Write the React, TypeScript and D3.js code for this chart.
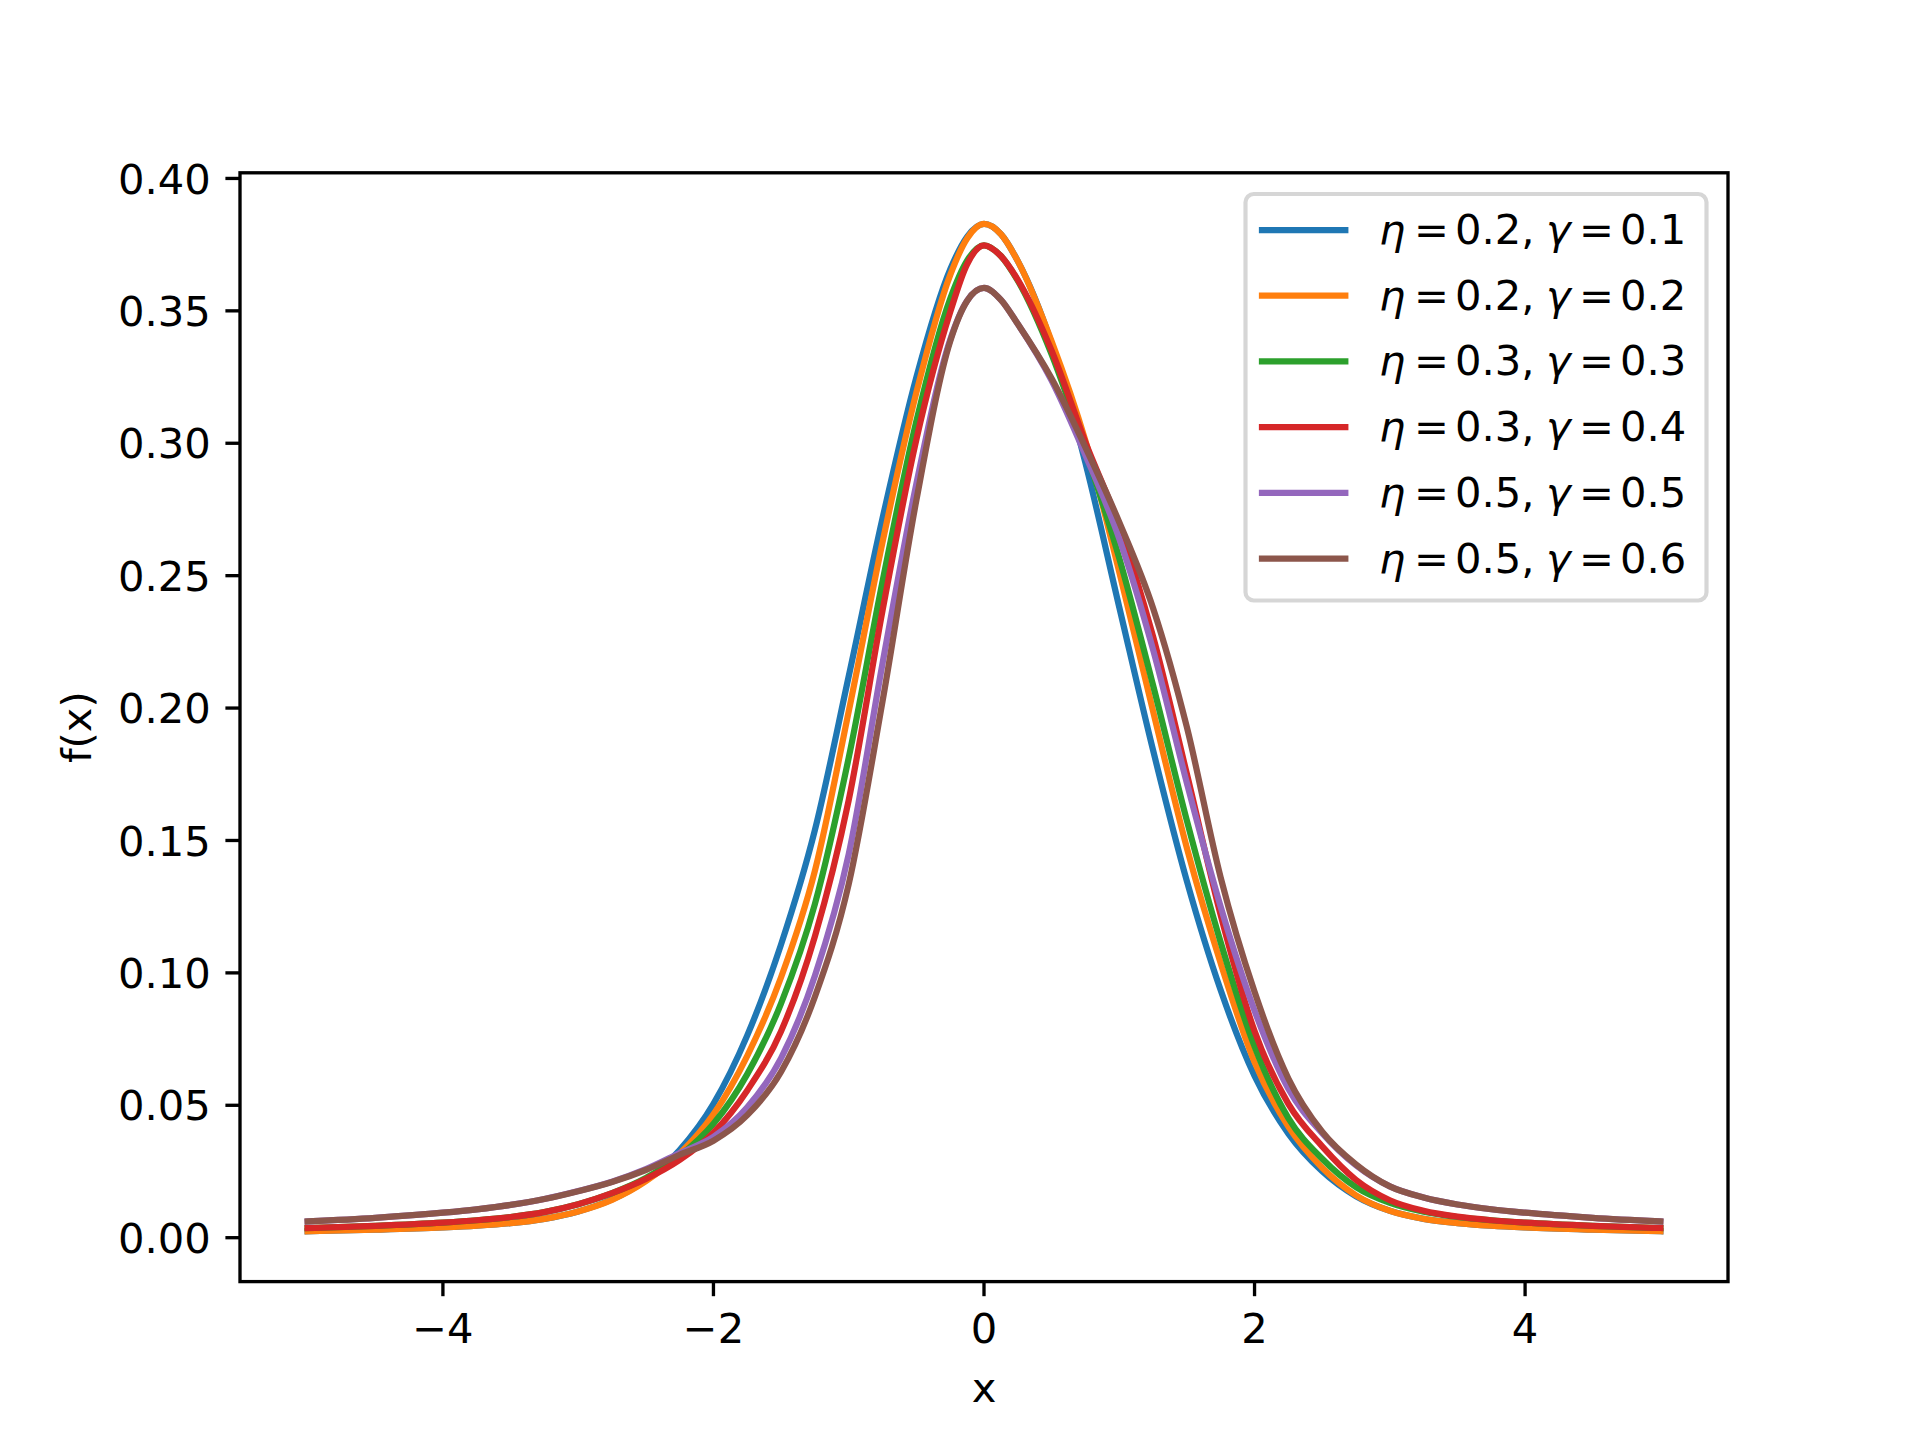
import React from "react";
import * as d3 from "d3";

// ---------- data ----------
const etaValues = [0.2, 0.2, 0.3, 0.3, 0.5, 0.5];
const gammaValues = [0.1, 0.2, 0.3, 0.4, 0.5, 0.6];
const seriesColors = ["#1f77b4", "#ff7f0e", "#2ca02c", "#d62728", "#9467bd", "#8c564b"];

const xTicks = [-4, -2, 0, 2, 4];
const xTickLabels = ["\u22124", "\u22122", "0", "2", "4"];
const yTicks = [0, 0.05, 0.1, 0.15, 0.2, 0.25, 0.3, 0.35, 0.4];
const yTickLabels = ["0.00", "0.05", "0.10", "0.15", "0.20", "0.25", "0.30", "0.35", "0.40"];

const xGrid = [
  -5, -4.5, -4, -3.75, -3.5, -3.25, -3, -2.75, -2.5, -2.25, -2, -1.75, -1.5, -1.25, -1,
  -0.75, -0.5, -0.25, -0.125, 0, 0.125, 0.25, 0.5, 0.75, 1, 1.25, 1.5, 1.75, 2, 2.25,
  2.5, 2.75, 3, 3.25, 3.5, 3.75, 4, 4.5, 5,
];

const yEta02Gam01 = [
  0.00245, 0.00301, 0.00385, 0.00451, 0.0055, 0.00713, 0.00991, 0.01441, 0.02168, 0.03311,
  0.05054, 0.07639, 0.11077, 0.15395, 0.21202, 0.27167, 0.32491, 0.36562, 0.37797, 0.38281,
  0.37895, 0.36878, 0.33766, 0.29253, 0.23808, 0.18404, 0.1346, 0.09341, 0.06112, 0.03928,
  0.02507, 0.01565, 0.01015, 0.00713, 0.0055, 0.00451, 0.00385, 0.00301, 0.00245,
];
const yEta02Gam02 = [
  0.00245, 0.00301, 0.00385, 0.00451, 0.0055, 0.00713, 0.00991, 0.01428, 0.0213, 0.03169,
  0.04657, 0.06868, 0.09836, 0.13858, 0.19876, 0.26268, 0.31915, 0.36352, 0.37732, 0.38281,
  0.37895, 0.36878, 0.33851, 0.30087, 0.25142, 0.19876, 0.14713, 0.10362, 0.06631, 0.04196,
  0.02642, 0.01602, 0.01015, 0.00713, 0.0055, 0.00451, 0.00385, 0.00301, 0.00245,
];
const yEta03Gam03 = [
  0.00367, 0.0045, 0.00571, 0.00659, 0.00782, 0.00968, 0.01265, 0.01683, 0.02254, 0.03084,
  0.04299, 0.06177, 0.0885, 0.126, 0.18126, 0.24782, 0.30831, 0.35458, 0.36899, 0.37475,
  0.3707, 0.36138, 0.33355, 0.29723, 0.25661, 0.20856, 0.15742, 0.11147, 0.07222, 0.04517,
  0.0298, 0.01911, 0.01315, 0.0098, 0.00782, 0.00659, 0.00571, 0.0045, 0.00367,
];
const yEta03Gam04 = [
  0.00367, 0.0045, 0.00571, 0.00659, 0.00782, 0.00968, 0.01265, 0.01683, 0.02218, 0.02936,
  0.03964, 0.05562, 0.078, 0.11381, 0.16527, 0.23683, 0.30139, 0.34952, 0.36761, 0.37475,
  0.3707, 0.36171, 0.33493, 0.30035, 0.26859, 0.22698, 0.17507, 0.12174, 0.078, 0.05055,
  0.03449, 0.02182, 0.01415, 0.01016, 0.00793, 0.00659, 0.00571, 0.0045, 0.00367,
];
const yEta05Gam05 = [
  0.00612, 0.0075, 0.00943, 0.01071, 0.01238, 0.0146, 0.0176, 0.02113, 0.02586, 0.03193,
  0.03805, 0.0492, 0.06781, 0.09895, 0.14486, 0.2169, 0.28463, 0.33908, 0.35381, 0.35863,
  0.35418, 0.345, 0.32365, 0.29547, 0.26398, 0.22203, 0.17164, 0.12491, 0.08576, 0.05623,
  0.03947, 0.0273, 0.01937, 0.01519, 0.01254, 0.01074, 0.00943, 0.0075, 0.00612,
];
const yEta05Gam06 = [
  0.00612, 0.0075, 0.00943, 0.01071, 0.01238, 0.0146, 0.01754, 0.02103, 0.02557, 0.03132,
  0.03663, 0.04627, 0.06265, 0.091, 0.13351, 0.20261, 0.27847, 0.33849, 0.35373, 0.35863,
  0.35418, 0.345, 0.32441, 0.29843, 0.27019, 0.23772, 0.19272, 0.13594, 0.09283, 0.0601,
  0.04002, 0.02764, 0.01937, 0.01519, 0.01254, 0.01074, 0.00943, 0.0075, 0.00612,
];

const allSeries = [yEta02Gam01, yEta02Gam02, yEta03Gam03, yEta03Gam04, yEta05Gam05, yEta05Gam06];

// ---------- layout ----------
const W = 1920;
const H = 1440;
const AX_L = 240;
const AX_R = 1728;
const AX_T = 172.8;
const AX_B = 1281.6;
const FONT = 41.67;
const LW = 6.25;
const SPINE = 3.33;
const TICK = 14.6;
const PAD = 14.6;

export default function App() {
  const x = d3.scaleLinear().domain([-5.5, 5.5]).range([AX_L, AX_R]);
  const y = d3.scaleLinear().domain([-0.01658, 0.40213]).range([AX_B, AX_T]);
  const line = d3
    .line<number>()
    .x((_, i) => x(xGrid[i]))
    .y((d) => y(d))
    .curve(d3.curveMonotoneX);

  const legX = 1245.5;
  const legY = 194;
  const legW = 461;
  const legH = 406.5;
  const rowStep = 65.7;

  return (
    <svg
      width={W}
      height={H}
      viewBox={`0 0 ${W} ${H}`}
      style={{ position: "absolute", left: 0, top: 0, background: "#fff" }}
      fontFamily="'DejaVu Sans', sans-serif"
    >
      <rect x={0} y={0} width={W} height={H} fill="#fff" />
      <defs>
        <clipPath id="axclip">
          <rect x={AX_L} y={AX_T} width={AX_R - AX_L} height={AX_B - AX_T} />
        </clipPath>
      </defs>

      {/* curves */}
      <g clipPath="url(#axclip)">
        {allSeries.map((s, i) => (
          <path
            key={i}
            d={line(s) || ""}
            fill="none"
            stroke={seriesColors[i]}
            strokeWidth={LW}
            strokeLinejoin="round"
            strokeLinecap="square"
          />
        ))}
      </g>

      {/* spines */}
      <rect
        x={AX_L}
        y={AX_T}
        width={AX_R - AX_L}
        height={AX_B - AX_T}
        fill="none"
        stroke="#000"
        strokeWidth={SPINE}
      />

      {/* x ticks */}
      {xTicks.map((t, i) => (
        <g key={`xt${i}`}>
          <line x1={x(t)} x2={x(t)} y1={AX_B} y2={AX_B + TICK} stroke="#000" strokeWidth={SPINE} />
          <text
            x={x(t)}
            y={AX_B + TICK + PAD + 31.7}
            fontSize={FONT}
            textAnchor="middle"
            fill="#000"
          >
            {xTickLabels[i]}
          </text>
        </g>
      ))}

      {/* y ticks */}
      {yTicks.map((t, i) => (
        <g key={`yt${i}`}>
          <line x1={AX_L - TICK} x2={AX_L} y1={y(t)} y2={y(t)} stroke="#000" strokeWidth={SPINE} />
          <text
            x={AX_L - TICK - PAD}
            y={y(t) + 15.2}
            fontSize={FONT}
            textAnchor="end"
            fill="#000"
          >
            {yTickLabels[i]}
          </text>
        </g>
      ))}

      {/* axis labels */}
      <text x={(AX_L + AX_R) / 2} y={1402} fontSize={FONT} textAnchor="middle" fill="#000">
        x
      </text>
      <text
        transform={`translate(91, ${(AX_T + AX_B) / 2}) rotate(-90)`}
        fontSize={FONT}
        textAnchor="middle"
        fill="#000"
      >
        f(x)
      </text>

      {/* legend */}
      <g>
        <rect
          x={legX}
          y={legY}
          width={legW}
          height={legH}
          rx={8.3}
          ry={8.3}
          fill="#fff"
          fillOpacity={0.8}
          stroke="#cccccc"
          strokeOpacity={0.8}
          strokeWidth={4.17}
        />
        {etaValues.map((eta, i) => {
          const hy = 230 + i * rowStep;
          const by = 244 + i * rowStep;
          return (
            <g key={`lg${i}`}>
              <line
                x1={1262}
                x2={1345.3}
                y1={hy}
                y2={hy}
                stroke={seriesColors[i]}
                strokeWidth={LW}
                strokeLinecap="square"
              />
              <text y={by} fontSize={FONT} fill="#000">
                <tspan x={1379} fontStyle="italic">η</tspan>
                <tspan x={1414}>=</tspan>
                <tspan x={1455}>{eta.toFixed(1)},</tspan>
                <tspan x={1546} fontStyle="italic">γ</tspan>
                <tspan x={1579}>=</tspan>
                <tspan x={1620}>{gammaValues[i].toFixed(1)}</tspan>
              </text>
            </g>
          );
        })}
      </g>
    </svg>
  );
}
